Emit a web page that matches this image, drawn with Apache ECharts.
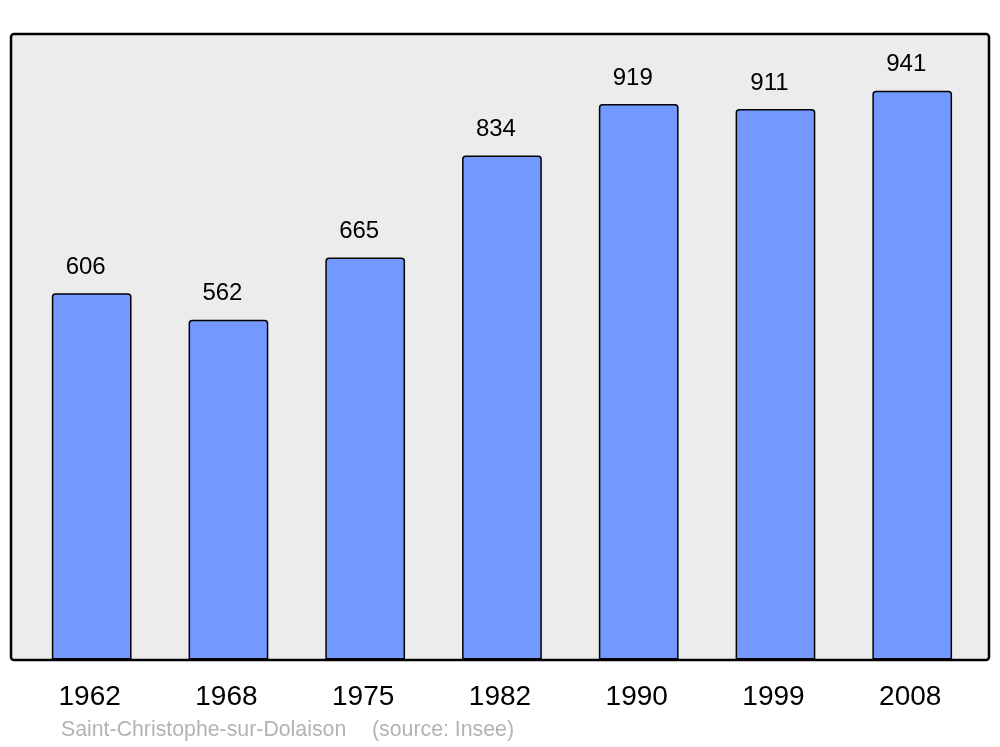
<!DOCTYPE html>
<html>
<head>
<meta charset="utf-8">
<script src="https://cdn.jsdelivr.net/npm/echarts@6/dist/echarts.min.js"></script>
<style>html,body{margin:0;padding:0;background:#fff}#c{width:1000px;height:747px}</style>
</head>
<body>
<div id="c"></div>
<script>
const years = ['1962', '1968', '1975', '1982', '1990', '1999', '2008'];
const population = [606, 562, 665, 834, 919, 911, 941];
const placeName = 'Saint-Christophe-sur-Dolaison';
const sourceText = '(source: Insee)';

const chart = echarts.init(document.getElementById('c'), null, {renderer: 'canvas'});
const font = '"Liberation Sans", Arial, sans-serif';
chart.setOption({
  animation: false,
  backgroundColor: '#ffffff',
  title: [
    {text: placeName, left: 61, top: 720, padding: 0, textStyle: {fontFamily: font, fontSize: 21.3, fontWeight: 'normal', color: '#b3b3b3'}},
    {text: sourceText, left: 372, top: 720, padding: 0, textStyle: {fontFamily: font, fontSize: 21.3, fontWeight: 'normal', color: '#b3b3b3'}}
  ],
  graphic: [{
    type: 'rect', z: -10, silent: true,
    shape: {x: 11, y: 34, width: 978, height: 626, r: 3},
    style: {fill: '#ececec', stroke: '#000000', lineWidth: 2.5}
  }],
  grid: {left: 23.3, width: 957.3, top: 34, height: 625.4},
  xAxis: {
    type: 'category', data: years,
    axisLine: {show: false}, axisTick: {show: false},
    axisLabel: {fontFamily: font, fontSize: 28, color: '#000', margin: 24, padding: [0, 4, 0, 0]}
  },
  yAxis: {
    type: 'value', min: 0, max: 1035,
    show: false, splitLine: {show: false}
  },
  series: [{
    type: 'bar', data: population, barWidth: '58.3%',
    itemStyle: {color: '#7399ff', borderColor: '#000', borderWidth: 1.5, borderRadius: [3, 3, 0, 0]},
    label: {show: true, position: 'top', distance: 14, offset: [-6, 0], fontFamily: font, fontSize: 24, color: '#000'}
  }]
});
</script>
</body>
</html>
